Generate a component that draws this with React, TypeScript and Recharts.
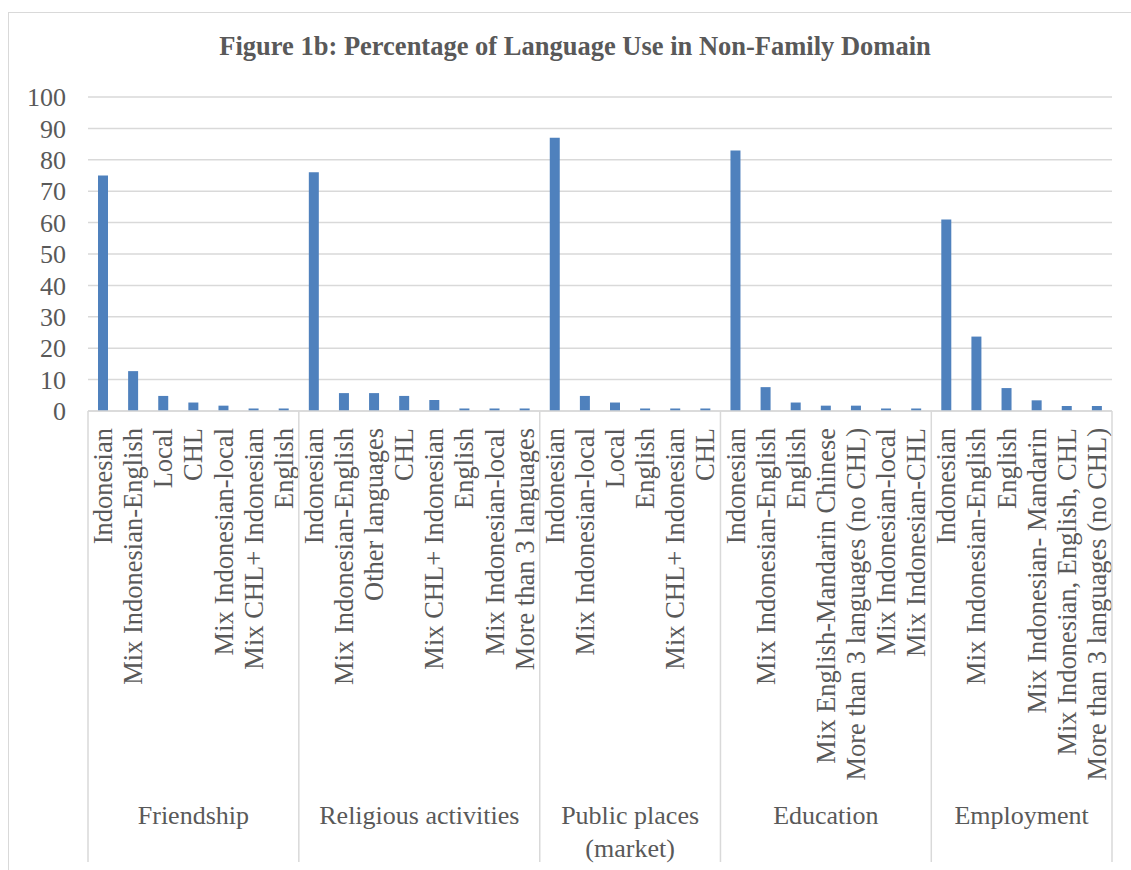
import { BarChart, Bar, XAxis, YAxis, CartesianGrid } from 'recharts';

const groupNames = ['Friendship', 'Religious activities', 'Public places (market)', 'Education', 'Employment'];

const friendshipLabels = ['Indonesian', 'Mix Indonesian-English', 'Local', 'CHL', 'Mix Indonesian-local', 'Mix CHL+ Indonesian', 'English'];
const friendshipValues = [75, 12.7, 4.8, 2.7, 1.7, 0.8, 0.8];

const religiousLabels = ['Indonesian', 'Mix Indonesian-English', 'Other languages', 'CHL', 'Mix CHL+ Indonesian', 'English', 'Mix Indonesian-local', 'More than 3 languages'];
const religiousValues = [76, 5.7, 5.7, 4.8, 3.5, 0.8, 0.8, 0.8];

const publicLabels = ['Indonesian', 'Mix Indonesian-local', 'Local', 'English', 'Mix CHL+ Indonesian', 'CHL'];
const publicValues = [87, 4.8, 2.7, 0.8, 0.8, 0.8];

const educationLabels = ['Indonesian', 'Mix Indonesian-English', 'English', 'Mix English-Mandarin Chinese', 'More than 3 languages (no CHL)', 'Mix Indonesian-local', 'Mix Indonesian-CHL'];
const educationValues = [83, 7.6, 2.7, 1.7, 1.7, 0.8, 0.8];

const employmentLabels = ['Indonesian', 'Mix Indonesian-English', 'English', 'Mix Indonesian- Mandarin', 'Mix Indonesian, English, CHL', 'More than 3 languages (no CHL)'];
const employmentValues = [61, 23.7, 7.3, 3.4, 1.6, 1.6];

const yTicks = [0, 10, 20, 30, 40, 50, 60, 70, 80, 90, 100];

const groupLabels = [friendshipLabels, religiousLabels, publicLabels, educationLabels, employmentLabels];
const groupValues = [friendshipValues, religiousValues, publicValues, educationValues, employmentValues];

const data = groupLabels.flatMap((labels, g) =>
  labels.map((label, i) => ({
    key: `${g}-${i}`,
    label,
    value: groupValues[g][i],
    group: g,
    first: i === 0,
    last: i === labels.length - 1,
    size: labels.length,
  }))
);

const W = 1131;
const H = 870;
const textColor = '#595959';
const lineColor = '#D9D9D9';
const font = '"Liberation Serif", "Times New Roman", serif';

function CategoryTick(props: any) {
  const { x, y, payload, index } = props;
  const d = data[index];
  const half = payload?.offset ?? (W - 88 - 19) / data.length / 2;
  const bottom = 862;
  const els: any[] = [];
  els.push(
    <text
      key="t"
      x={x}
      y={y + 17}
      dy="0.34em"
      transform={`rotate(-90, ${x}, ${y + 17})`}
      textAnchor="end"
      fontSize={26.5}
      fill={textColor}
      fontFamily={font}
    >
      {d.label}
    </text>
  );
  if (d.first) {
    const left = x - half;
    const center = left + d.size * half;
    els.push(<line key="l" x1={left} y1={y} x2={left} y2={bottom} stroke={lineColor} strokeWidth={1.5} />);
    const name = groupNames[d.group];
    const parts = name === 'Public places (market)' ? ['Public places', '(market)'] : [name];
    parts.forEach((p, k) => {
      els.push(
        <text
          key={`g${k}`}
          x={center}
          y={y + 404 + k * 33}
          dy="0.34em"
          textAnchor="middle"
          fontSize={26}
          fill={textColor}
          fontFamily={font}
        >
          {p}
        </text>
      );
    });
  }
  if (d.last && index === data.length - 1) {
    const right = x + half;
    els.push(<line key="r" x1={right} y1={y} x2={right} y2={bottom} stroke={lineColor} strokeWidth={1.5} />);
  }
  return <g>{els}</g>;
}

export default function App() {
  return (
    <div style={{ position: 'absolute', left: 0, top: 0, width: W, height: H, background: '#fff', overflow: 'hidden' }}>
      <div
        style={{
          position: 'absolute',
          left: 8,
          top: 12,
          width: W,
          height: H,
          border: `1.5px solid ${lineColor}`,
          boxSizing: 'border-box',
        }}
      />
      <div
        style={{
          position: 'absolute',
          left: 0,
          top: 30,
          width: 1150,
          textAlign: 'center',
          fontFamily: font,
          fontWeight: 'bold',
          fontSize: 26.5,
          lineHeight: '32px',
          color: textColor,
        }}
      >
        Figure 1b: Percentage of Language Use in Non-Family Domain
      </div>
      <div style={{ position: 'absolute', left: 0, top: 0 }}>
        <BarChart width={W} height={H} data={data} margin={{ top: 97, right: 19, bottom: 19, left: 28 }}>
          <CartesianGrid vertical={false} stroke={lineColor} strokeWidth={1.5} />
          <XAxis
            dataKey="key"
            interval={0}
            height={440}
            tickLine={false}
            tickSize={0}
            tickMargin={0}
            axisLine={{ stroke: lineColor, strokeWidth: 1.5 }}
            tick={<CategoryTick />}
          />
          <YAxis
            width={60}
            domain={[0, 100]}
            ticks={yTicks}
            interval={0}
            axisLine={false}
            tickLine={false}
            tickSize={0}
            tickMargin={22}
            tick={{ fontSize: 26, fill: textColor, fontFamily: font }}
          />
          <Bar dataKey="value" fill="#4F81BD" barSize={10} isAnimationActive={false} />
        </BarChart>
      </div>
    </div>
  );
}
